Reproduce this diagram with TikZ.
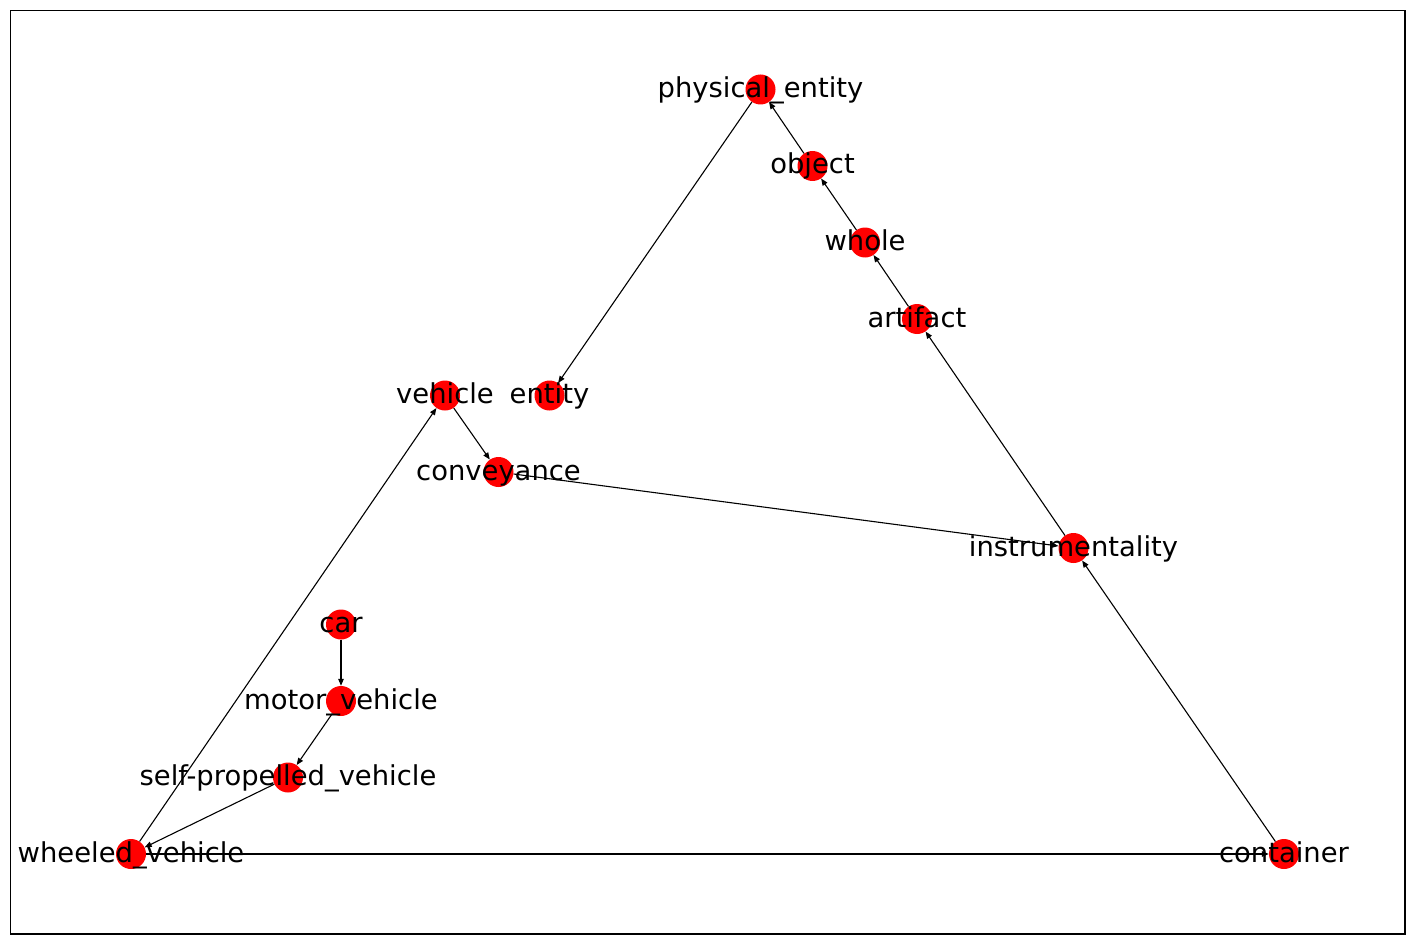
\documentclass[tikz,border=0pt]{standalone}
\usepackage{fontspec}
\setmainfont{DejaVu Sans}
\usetikzlibrary{arrows.meta}
\begin{document}
\begin{tikzpicture}[x=1pt,y=-1pt,
  dot/.style={circle,fill=red,draw=none,minimum size=30pt,inner sep=0pt},
  lbl/.style={anchor=base,yshift=-8pt,inner sep=0pt,font=\fontsize{27.4}{32}\selectfont},
  edge/.style={line width=1.1pt,-{Triangle[length=7pt,width=5.5pt]}}]
\useasboundingbox (0,0) rectangle (1415,944);
\fill[white] (0,0) rectangle (1415,944);
\draw[line width=1.1pt] (10.5,10.5) rectangle (1405,934);
% nodes
\node[dot] (pe) at (760.5,89.5) {};
\node[dot] (ob) at (812.5,166) {};
\node[dot] (wh) at (865,242.5) {};
\node[dot] (ar) at (917,319) {};
\node[dot] (en) at (549.5,395.5) {};
\node[dot] (ve) at (445,395.5) {};
\node[dot] (co) at (498.5,472) {};
\node[dot] (in) at (1073.5,548) {};
\node[dot] (ca) at (341,624.5) {};
\node[dot] (mv) at (341,701) {};
\node[dot] (sp) at (288,777.5) {};
\node[dot] (wv) at (131,854) {};
\node[dot] (ct) at (1284,854) {};
% edges
\draw[edge] (pe) -- (en);
\draw[edge] (ob) -- (pe);
\draw[edge] (wh) -- (ob);
\draw[edge] (ar) -- (wh);
\draw[edge] (in) -- (ar);
\draw[edge] (ct) -- (in);
\draw[edge] (wv) -- (ct);
\draw[edge] (wv) -- (ve);
\draw[edge] (ve) -- (co);
\draw[edge] (co) -- (in);
\draw[edge] (ca) -- (mv);
\draw[edge] (mv) -- (sp);
\draw[edge] (sp) -- (wv);
% labels
\node[lbl] (lpe) at (pe.center) {physical\_entity};
\node[lbl] (lob) at (ob.center) {object};
\node[lbl] (lwh) at (wh.center) {whole};
\node[lbl] (lar) at (ar.center) {artifact};
\node[lbl] (len) at (en.center) {entity};
\node[lbl] (lve) at (ve.center) {vehicle};
\node[lbl] (lco) at (co.center) {conveyance};
\node[lbl] (lin) at (in.center) {instrumentality};
\node[lbl] (lca) at (ca.center) {car};
\node[lbl] (lmv) at (mv.center) {motor\_vehicle};
\node[lbl] (lsp) at (sp.center) {self-propelled\_vehicle};
\node[lbl] (lwv) at (wv.center) {wheeled\_vehicle};
\node[lbl] (lct) at (ct.center) {container};
\end{tikzpicture}
\end{document}
